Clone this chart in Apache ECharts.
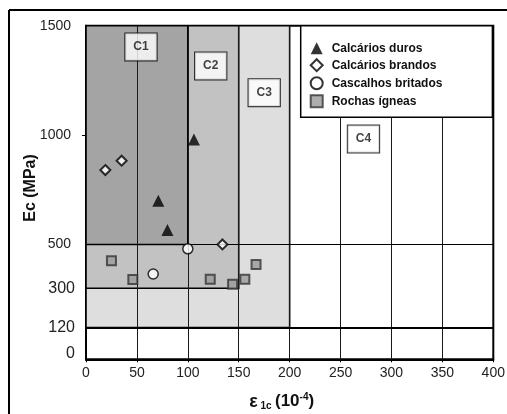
<!DOCTYPE html>
<html><head><meta charset="utf-8">
<script src="https://cdn.jsdelivr.net/npm/echarts@6/dist/echarts.min.js"></script>
<style>html,body{margin:0;padding:0;background:#fff}#c{width:507px;height:414px}</style>
</head><body><div id="c"></div>
<script>
// ---- data ----
const xTickValues = [0, 50, 100, 150, 200, 250, 300, 350, 400];
const yTickValues = [0, 120, 300, 500, 1000, 1500];
const zoneNames = ['C1', 'C2', 'C3', 'C4'];
const zoneXMax = [100, 150, 200];
const zoneYMin = [500, 300, 120];
const zoneYMax = 1500;
const hLineFull = [500];
const hLineThick = [120];
const seriesNames = ['Calcários duros', 'Calcários brandos', 'Cascalhos britados', 'Rochas ígneas'];
const durosX = [106, 71, 80];
const durosY = [980, 700, 566];
const brandosX = [19, 35, 134];
const brandosY = [840, 883, 500];
const britadosX = [100, 66];
const britadosY = [480, 365];
const igneasX = [25, 46, 122, 144, 156, 167];
const igneasY = [425, 340, 341, 318, 341, 408];
// zone label anchor (data coords)
const zoneLabelX = [54, 122.5, 175, 272.5];
const zoneLabelY = [1403, 1316, 1194, 982];

const FONT = "'Liberation Sans', Arial, sans-serif";
const zip = (a, b) => a.map((v, i) => [v, b[i]]);
const zoneColors = ['#a4a4a4', '#c2c2c2', '#dedede'];

const areas = [];
for (let i = zoneXMax.length - 1; i >= 0; i--) {
  areas.push([
    { xAxis: 0, yAxis: zoneYMin[i], itemStyle: { color: zoneColors[i], borderColor: '#000', borderWidth: 1.6 } },
    { xAxis: zoneXMax[i], yAxis: zoneYMax }
  ]);
}
const vLines = xTickValues.filter(v => v > 0 && v < 400).map(v => ({ xAxis: v, lineStyle: { color: '#1a1a1a', width: 1, type: 'solid' } }));
const hLines = hLineFull.map(v => ({ yAxis: v, lineStyle: { color: '#000', width: 1, type: 'solid' } }))
  .concat(hLineThick.map(v => ({ yAxis: v, lineStyle: { color: '#000', width: 2, type: 'solid' } })));

const chart = echarts.init(document.getElementById('c'), null, { renderer: 'canvas' });
chart.setOption({
  animation: false,
  backgroundColor: '#fff',
  textStyle: { fontFamily: FONT },
  grid: { left: 86, right: 13.7, top: 25.7, bottom: 54.7, show: true, borderColor: '#000', borderWidth: 2, backgroundColor: 'transparent', outerBoundsMode: 'none' },
  graphic: [
    { type: 'line', shape: { x1: 9, y1: 10, x2: 507, y2: 10 }, style: { stroke: '#000', lineWidth: 2 }, z: 100 },
    { type: 'line', shape: { x1: 9, y1: 10, x2: 9, y2: 414 }, style: { stroke: '#000', lineWidth: 2 }, z: 100 }
  ],
  legend: {
    orient: 'vertical', left: 300.7, top: 25.7,
    padding: [16.5, 50, 9, 9],
    itemWidth: 12, itemHeight: 12, itemGap: 4,
    backgroundColor: '#fff', borderColor: '#000', borderWidth: 1.5,
    textStyle: { fontFamily: FONT, fontSize: 12, fontWeight: 'bold', color: '#111', padding: [0, 0, 0, 4] },
    data: seriesNames,
    z: 20
  },
  xAxis: {
    type: 'value', min: 0, max: 400, interval: 50,
    axisLine: { show: true, onZero: false, lineStyle: { color: '#000', width: 2 } },
    axisTick: { show: true, length: 3, lineStyle: { color: '#000' } },
    splitLine: { show: false },
    axisLabel: { color: '#222', fontSize: 14, margin: 7, fontFamily: FONT },
    name: '{e|ε}{sub| 1c} {m|(10}{sup|-4}{m|)}',
    nameLocation: 'middle', nameGap: 33, nameMoveOverlap: false,
    nameTextStyle: {
      padding: [0, 16, 0, 0],
      rich: {
        e: { fontSize: 18, fontFamily: FONT, color: '#111', fontWeight: 'bold' },
        sub: { fontSize: 10, fontFamily: FONT, fontWeight: 'bold', color: '#111', padding: [8, 0, 0, 0] },
        m: { fontSize: 17, fontFamily: FONT, fontWeight: 'bold', color: '#111' },
        sup: { fontSize: 10, fontFamily: FONT, fontWeight: 'bold', color: '#111', padding: [0, 0, 9, 0] }
      }
    }
  },
  yAxis: {
    type: 'value', min: -25, max: 1500,
    axisLine: { show: true, lineStyle: { color: '#000', width: 2 } },
    axisTick: { show: true, customValues: [1000], length: 4, lineStyle: { color: '#000' } },
    splitLine: { show: false },
    axisLabel: {
      customValues: yTickValues, margin: 11, fontFamily: FONT,
      formatter: v => (v <= 300 ? '{b|' + v + '}' : '{s|' + v + '}'),
      rich: {
        b: { fontSize: 16, color: '#222', fontFamily: FONT },
        s: { fontSize: 14, color: '#222', fontFamily: FONT, padding: [0, 4, 0, 0] }
      }
    },
    name: 'Ec (MPa)', nameLocation: 'middle', nameGap: 47, nameMoveOverlap: false,
    nameTextStyle: { fontSize: 16, fontWeight: 'bold', color: '#111', fontFamily: FONT, padding: [0, 0, 0, 9] }
  },
  series: [
    {
      type: 'scatter', name: '_zones', data: [], z: 1, silent: true,
      markArea: { silent: true, data: areas }
    },
    {
      type: 'scatter', name: '_lines', data: [], z: 2, silent: true,
      markLine: { silent: true, symbol: 'none', label: { show: false }, data: vLines.concat(hLines) }
    },
    {
      type: 'scatter', name: '_labels', z: 5, silent: true, symbolSize: 0,
      data: zoneNames.map((n, i) => ({ name: n, value: [zoneLabelX[i], zoneLabelY[i]] })),
      label: {
        show: true, position: 'inside', formatter: p => p.name,
        fontFamily: FONT, fontSize: 12, fontWeight: 'bold', color: '#111',
        backgroundColor: '#fff', borderColor: '#000', borderWidth: 1, padding: [8, 8, 7, 8]
      }
    },
    {
      type: 'scatter', name: seriesNames[0], z: 10, data: zip(durosX, durosY),
      symbol: 'triangle', symbolSize: [12, 12], itemStyle: { color: '#000' }
    },
    {
      type: 'scatter', name: seriesNames[1], z: 10, data: zip(brandosX, brandosY),
      symbol: 'diamond', symbolSize: 10, itemStyle: { color: '#fff', borderColor: '#000', borderWidth: 2 }
    },
    {
      type: 'scatter', name: seriesNames[2], z: 10, data: zip(britadosX, britadosY),
      symbol: 'circle', symbolSize: 10, itemStyle: { color: '#fff', borderColor: '#000', borderWidth: 1.5 }
    },
    {
      type: 'scatter', name: seriesNames[3], z: 10, data: zip(igneasX, igneasY),
      symbol: 'rect', symbolSize: 9, itemStyle: { color: '#9a9a9a', borderColor: '#333', borderWidth: 2 }
    }
  ]
});
</script></body></html>
